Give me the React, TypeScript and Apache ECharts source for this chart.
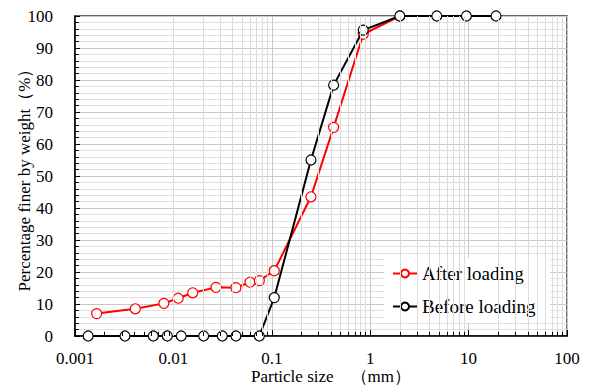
import React, { useEffect, useRef } from "react";
import * as echarts from "echarts";

const afterSizes = [0.00166, 0.0041, 0.008, 0.0112, 0.0157, 0.0271, 0.0432, 0.06, 0.0747, 0.106, 0.25, 0.425, 0.85, 2];
const afterPct = [7, 8.5, 10.2, 11.8, 13.5, 15.2, 15.1, 16.8, 17.3, 20.4, 43.5, 65.2, 94.3, 100];

const beforeSizes = [0.00136, 0.00322, 0.00625, 0.00867, 0.012, 0.0203, 0.0314, 0.0432, 0.0747, 0.106, 0.25, 0.425, 0.85, 2, 4.75, 9.5, 19];
const beforePct = [0, 0, 0, 0, 0, 0, 0, 0, 0, 12, 55, 78.4, 95.6, 100, 100, 100, 100];

const decades = [0.001, 0.01, 0.1, 1, 10];
const minorMultipliers = [2, 3, 4, 5, 6, 7, 8, 9];

const FONT = "Liberation Serif";

export default function App() {
  const ref = useRef<HTMLDivElement>(null);
  useEffect(() => {
    document.body.style.margin = "0";
    if (!ref.current) return;
    const chart = echarts.init(ref.current, undefined, { renderer: "svg" });
    const minorX: number[] = [];
    decades.forEach((d) => minorMultipliers.forEach((m) => minorX.push(Number((d * m).toPrecision(6)))));
    const fmt = (v: number) => String(Number(Number(v).toPrecision(6)));
    chart.setOption({
      animation: false,
      textStyle: { fontFamily: FONT },
      grid: {
        left: 75, top: 16, right: 23, bottom: 51,
        outerBoundsMode: "none", containLabel: false,
        show: true, borderColor: "#333", borderWidth: 1.5, backgroundColor: "transparent",
      },
      legend: {
        data: ["After loading", "Before loading"],
        orient: "vertical",
        left: 384,
        top: 258,
        itemGap: 14,
        itemWidth: 24,
        itemHeight: 10,
        backgroundColor: "#fff",
        padding: [6, 15, 7, 8],
        textStyle: { fontFamily: FONT, fontSize: 19, color: "#000" },
      },
      xAxis: {
        type: "log",
        logBase: 10,
        min: 0.001,
        max: 100,
        name: "Particle size　（mm）",
        nameLocation: "middle",
        nameGap: 32,
        nameMoveOverlap: false,
        nameTextStyle: { fontFamily: FONT, fontSize: 17, color: "#000", padding: [0, 0, 0, 20] },
        axisLine: { lineStyle: { color: "#000", width: 1.5 } },
        axisTick: { show: true, inside: true, length: 6, lineStyle: { color: "#000" } },
        axisLabel: { fontFamily: FONT, fontSize: 17, color: "#000", margin: 14, formatter: fmt },
        splitLine: { show: true, lineStyle: { color: "#c8c8c8", width: 1 } },
      },
      yAxis: {
        type: "value",
        min: 0,
        max: 100,
        interval: 10,
        name: "Percentage finer by weight（%）",
        nameLocation: "middle",
        nameGap: 42,
        nameMoveOverlap: false,
        nameTextStyle: { fontFamily: FONT, fontSize: 17, color: "#000" },
        axisLine: { show: true, lineStyle: { color: "#000", width: 1.5 } },
        axisTick: { show: true, inside: true, length: 5, lineStyle: { color: "#000" } },
        minorTick: { show: true, splitNumber: 5, length: 4, lineStyle: { color: "#000" } },
        axisLabel: { fontFamily: FONT, fontSize: 17, color: "#000", margin: 22 },
        splitLine: { show: true, lineStyle: { color: "#c8c8c8", width: 1 } },
        minorSplitLine: { show: true, lineStyle: { color: "#e0e0e0", width: 1 } },
      },
      series: [
        {
          name: "grid-helper",
          type: "line",
          data: [],
          silent: true,
          z: 1,
          markLine: {
            silent: true,
            symbol: "none",
            label: { show: false },
            animation: false,
            data: [
              ...minorX.map((x) => ({ xAxis: x, lineStyle: { color: "#dcdcdc", width: 1, type: "solid" } })),
              ...minorX.map((x) => [
                { coord: [x, 0], lineStyle: { color: "#000", width: 1, type: "solid" } },
                { coord: [x, 1.3] },
              ]),
            ],
          },
        },
        {
          name: "After loading",
          type: "line",
          z: 3,
          data: afterSizes.map((s, i) => [s, afterPct[i]]),
          symbol: "circle",
          symbolSize: 10,
          lineStyle: { color: "#ff0000", width: 2 },
          itemStyle: { color: "#fff", borderColor: "#ff0000", borderWidth: 1.2 },
        },
        {
          name: "Before loading",
          type: "line",
          z: 4,
          data: beforeSizes.map((s, i) => [s, beforePct[i]]),
          symbol: "circle",
          symbolSize: 10,
          lineStyle: { color: "#000", width: 2 },
          itemStyle: { color: "#fff", borderColor: "#000", borderWidth: 1.2 },
        },
      ],
    });
    return () => chart.dispose();
  }, []);
  return <div ref={ref} style={{ width: 590, height: 387 }} />;
}
